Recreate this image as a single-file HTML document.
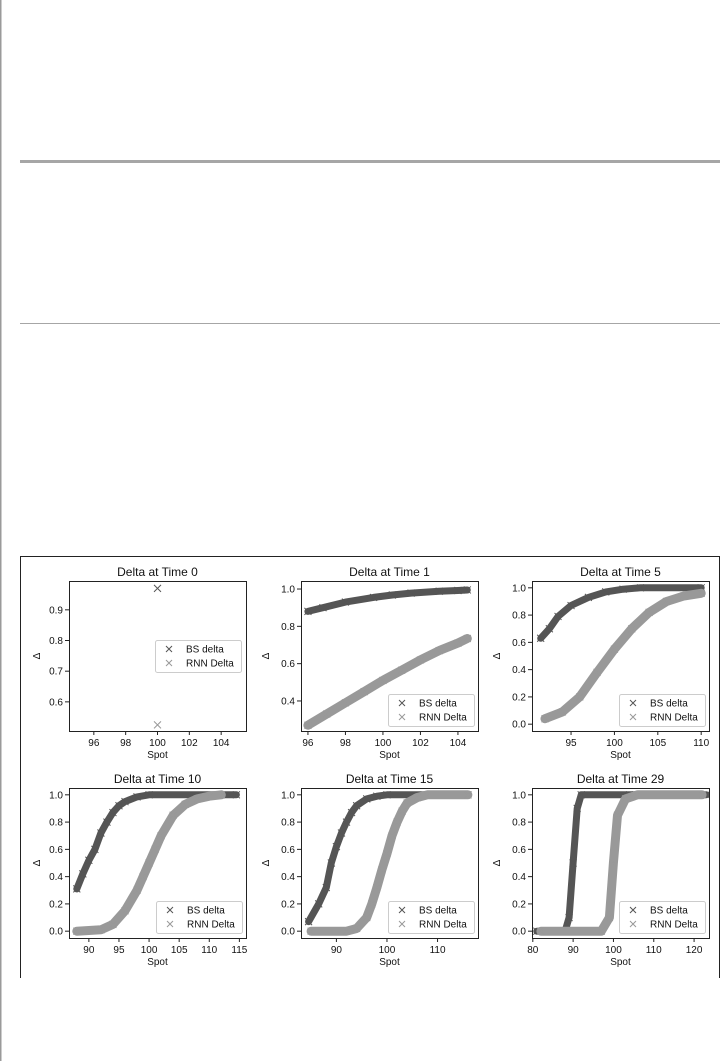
<!DOCTYPE html>
<html><head><meta charset="utf-8"><style>
html,body{margin:0;padding:0;background:#fff;}
svg{display:block;font-family:"Liberation Sans","DejaVu Sans",sans-serif;}
</style></head><body>
<svg id="fig" width="721" height="1061" viewBox="0 0 721 1061">
<rect x="0" y="0" width="721" height="1061" fill="#fff"/>
<rect x="0" y="0" width="1.5" height="1061" fill="#9a9a9a"/>
<rect x="20" y="160" width="700" height="3" fill="#a6a6a6"/>
<rect x="20" y="323" width="700" height="1" fill="#a6a6a6"/>
<path d="M20.5,978 V556.5 H719.5 V978" fill="none" stroke="#222" stroke-width="1"/>
<g id="plots"></g>
</svg>
<script>
// Data: [spot, delta] pairs
const bs0=[[100,0.97]];
const rnn0=[[100,0.525]];
const bs1=[[96,0.88],[96.8,0.90],[98,0.93],[99.5,0.955],[100.5,0.968],[101.5,0.978],[103,0.988],[104,0.992],[104.5,0.995]];
const rnn1=[[96,0.27],[97,0.33],[98,0.39],[99,0.45],[100,0.51],[101,0.565],[102,0.62],[103,0.67],[104,0.71],[104.5,0.735]];
const bs5=[[91.5,0.63],[92.5,0.70],[93.5,0.79],[95,0.87],[97,0.93],[99,0.97],[101,0.99],[103,1.0],[110,1.0]];
const rnn5=[[92,0.04],[94,0.09],[96,0.2],[98,0.38],[100,0.55],[102,0.7],[104,0.82],[106,0.9],[108,0.94],[110,0.96]];
const bs10=[[88,0.31],[89,0.42],[90,0.52],[91,0.6],[92,0.72],[93,0.8],[94,0.87],[95,0.92],[96,0.95],[98,0.985],[100,1.0],[112,1.0],[114.5,1.0]];
const rnn10=[[88,0],[92,0.01],[94,0.05],[96,0.15],[98,0.3],[99,0.4],[100,0.5],[101,0.6],[102,0.7],[104,0.85],[106,0.93],[108,0.97],[110,0.99],[112,1.0]];
const bs15=[[84.5,0.07],[86.5,0.2],[88,0.32],[89,0.5],[90,0.62],[91,0.72],[92,0.8],[93,0.87],[94,0.92],[96,0.97],[98,0.99],[100,1.0],[116,1.0]];
const rnn15=[[85,0],[92,0],[94,0.02],[96,0.1],[97,0.2],[98,0.32],[99,0.45],[100,0.57],[101,0.7],[102,0.8],[103,0.88],[104,0.94],[106,0.98],[108,1.0],[116,1.0]];
const bs29=[[81,0],[88,0],[89,0.1],[90,0.5],[91,0.9],[92,1.0],[104,1.0],[123,1.0]];
const rnn29=[[82,0],[97,0],[99,0.1],[100,0.5],[101,0.85],[103,0.97],[106,1.0],[122,1.0]];
const titles=["Delta at Time 0","Delta at Time 1","Delta at Time 5","Delta at Time 10","Delta at Time 15","Delta at Time 29"];
const xTicks=[[96,98,100,102,104],[96,98,100,102,104],[95,100,105,110],[90,95,100,105,110,115],[90,100,110],[80,90,100,110,120]];
const yTicks=[[0.6,0.7,0.8,0.9],[0.4,0.6,0.8,1.0],[0.0,0.2,0.4,0.6,0.8,1.0],[0.0,0.2,0.4,0.6,0.8,1.0],[0.0,0.2,0.4,0.6,0.8,1.0],[0.0,0.2,0.4,0.6,0.8,1.0]];
const xDomains=[[94.44,105.56],[95.63,105.07],[90.5,110.9],[86.7,116.1],[83,118],[79.8,123.7]];
const yDomains=[[0.505,0.994],[0.239,1.043],[-0.05,1.05],[-0.05,1.05],[-0.05,1.05],[-0.05,1.05]];
const bsSeries=[bs0,bs1,bs5,bs10,bs15,bs29];
const rnnSeries=[rnn0,rnn1,rnn5,rnn10,rnn15,rnn29];

const NS="http://www.w3.org/2000/svg";
const root=document.getElementById('plots');
function mk(tag,attrs,parent){const e=document.createElementNS(NS,tag);for(const k in attrs)e.setAttribute(k,attrs[k]);(parent||root).appendChild(e);return e;}
const boxes=[[69,581],[301,581],[532,581],[69,788],[301,788],[532,788]];
const W=177,H=150;
const BS="#555555",RNN="#999999";
function cross(g,x,y,c,s){
  const p=mk('path',{d:`M${x-s},${y-s}L${x+s},${y+s}M${x-s},${y+s}L${x+s},${y-s}`,stroke:c,'stroke-width':1,fill:'none'},g);
  
  
}
for(let i=0;i<6;i++){
  const [bx,by]=boxes[i];
  const g=mk('g',{});
  
  
  const xd=xDomains[i],yd=yDomains[i];
  const sx=v=>bx+(v-xd[0])/(xd[1]-xd[0])*W;
  const sy=v=>by+H-(v-yd[0])/(yd[1]-yd[0])*H;
  const t=mk('text',{x:bx+W/2,y:by-5,'text-anchor':'middle','font-size':12,fill:'#111'},g);t.textContent=titles[i];
  
  
  [[bsSeries[i],BS],[rnnSeries[i],RNN]].forEach(([s,c],k)=>{
    if(s.length>1){
      const d=s.map((p,j)=>(j?'L':'M')+sx(p[0]).toFixed(1)+','+sy(p[1]).toFixed(1)).join('');
      const pl=mk('path',{d:d,stroke:c,'stroke-width':k?9:7,fill:'none','stroke-linejoin':'round','stroke-linecap':'round'},g);
      
      
    }
    s.forEach(p=>cross(g,sx(p[0]),sy(p[1]),c,3.5));
  });
  const fr=mk('rect',{x:bx+.5,y:by+.5,width:W,height:H,fill:'none',stroke:'#222','stroke-width':1},g);
  
  
  xTicks[i].forEach(v=>{
    const x=sx(v);
    mk('line',{x1:x,x2:x,y1:by+H,y2:by+H+4,stroke:'#222'},g);
    const tx=mk('text',{x:x,y:by+H+15,'text-anchor':'middle','font-size':10,fill:'#111'},g);tx.textContent=v;
    
    
  });
  yTicks[i].forEach(v=>{
    const y=sy(v);
    mk('line',{x1:bx-4,x2:bx,y1:y,y2:y,stroke:'#222'},g);
    const ty=mk('text',{x:bx-6,y:y+3.5,'text-anchor':'end','font-size':10,fill:'#111'},g);ty.textContent=v.toFixed(1);
    
    
  });
  const xl=mk('text',{x:bx+W/2,y:by+H+27,'text-anchor':'middle','font-size':10,fill:'#111'},g);xl.textContent='Spot';
  
  
  const yx=bx-(i%3==0?29:32),yy=by+H/2;
  const yl=mk('text',{x:yx,y:yy,'text-anchor':'middle','font-size':10,fill:'#111',transform:`rotate(-90 ${yx} ${yy})`},g);yl.textContent='Δ';
  
  
  const lx=i==0?bx+86:bx+W-90, ly=i==0?by+59:by+H-37;
  const lg=mk('g',{},g);
  
  
  mk('rect',{x:lx+.5,y:ly+.5,width:86,height:32,rx:2,fill:'#fff','fill-opacity':0.85,stroke:'#ccc'},lg);
  [['BS delta',BS],['RNN Delta',RNN]].forEach(([lab,c],k)=>{
    cross(lg,lx+14,ly+9+k*14,c,3);
    const tt=mk('text',{x:lx+31,y:ly+12.5+k*14,'font-size':10,fill:'#111'},lg);tt.textContent=lab;
    
    
  });
}
</script>
</body></html>
